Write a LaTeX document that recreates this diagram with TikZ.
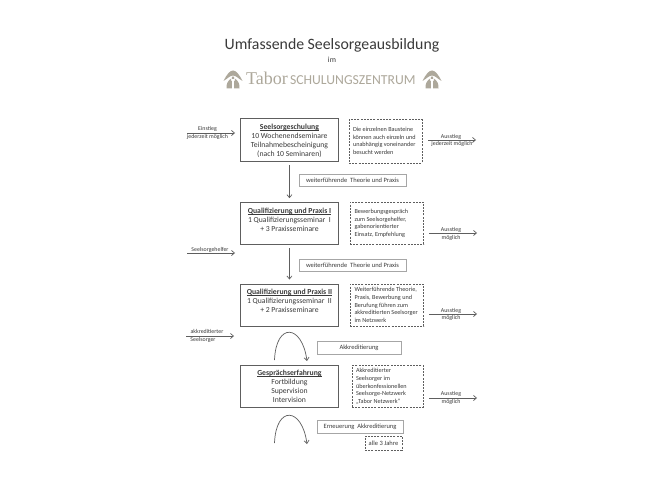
\documentclass[tikz,border=0pt]{standalone}
\usepackage{fontspec}
\setmainfont{Carlito}
\usetikzlibrary{arrows.meta,positioning}
\definecolor{ink}{HTML}{3A3A3A}
\definecolor{edge}{HTML}{5E5E5E}
\definecolor{logo}{HTML}{ADA89B}
\newcommand{\fs}[2]{\fontsize{#1}{#2}\selectfont}
\newcommand{\ubold}[1]{\setbox0\hbox{\textbf{#1}}\rlap{\rule[-1.1pt]{\wd0}{.6pt}}\box0}
\tikzset{
 x=1pt,y=-1pt,
 every node/.style={text=ink,inner sep=0pt,outer sep=0pt},
 mainbox/.style={draw=edge,line width=1pt,anchor=north west,font=\fs{7.7}{9.1}},
 maintext/.style={align=center,font=\fs{7.7}{9.05},anchor=north,yshift=-5pt},
 notebox/.style={draw=edge,line width=.7pt,dash pattern=on 2pt off 1.2pt,anchor=north west},
 notetext/.style={font=\fs{6.2}{7.6},align=left,anchor=west},
 tagbox/.style={draw=gray!70,line width=.6pt,anchor=north west,font=\fs{6.5}{8},align=center},
 flow/.style={draw=edge,line width=.7pt,-{Straight Barb[length=3pt,width=5pt]}},
 sidelabel/.style={font=\fs{5.9}{6.7},align=center},
 logoicon/.pic={
  \fill[logo] (-9.5,1) .. controls (-6,-6) and (-3,-9.5) .. (0,-9.5) .. controls (3,-9.5) and (6,-6) .. (9.5,1) .. controls (6,-1) and (3,-4.5) .. (0,-4.5) .. controls (-3,-4.5) and (-6,-1) .. (-9.5,1) -- cycle;
  \fill[logo] (-6.5,8.5) .. controls (-7,4) and (-5,0.5) .. (-1.8,-1.5) -- (-1.8,1) -- (-1.2,1) -- (-1.2,8.5) -- cycle;
  \fill[logo] (1.2,8.5) -- (1.2,1) -- (1.8,1) -- (1.8,-1.5) .. controls (5,0.5) and (7,4) .. (6.5,8.5) -- cycle;
  \fill[logo] (-1.1,-3) -- (0,-3.6) -- (1.1,-3) -- (1.1,-1) -- (-1.1,-1) -- cycle;
 }
}
\begin{document}
\begin{tikzpicture}
\useasboundingbox (0,0) rectangle (666,500);
\fill[white] (0,0) rectangle (666,500);
% heading
\node (title) at (332,45) {\fs{15.8}{18}Umfassende Seelsorgeausbildung};
\node (im) at (332,60) {\fs{7.8}{9}im};
\pic at (233,80) {logoicon};
\pic at (432,80) {logoicon};
\node[text=logo,anchor=base west] (tabor) at (246,85) {\fontspec{Liberation Serif}\fs{18}{20}Tabor};
\node[text=logo,anchor=base west] (schule) at (290,85) {\fs{13.7}{15}SCHULUNGSZENTRUM};

% main boxes
\node[mainbox,minimum width=97.5pt,minimum height=42pt] (b1) at (240.7,119) {};
\node[maintext] (t1) at (b1.north) {\ubold{Seelsorgeschulung}\\10 Wochenendseminare\\Teilnahmebescheinigung\\(nach 10 Seminaren)};
\node[mainbox,minimum width=97.5pt,minimum height=41.5pt] (b2) at (240.7,202.7) {};
\node[maintext] (t2) at (b2.north) {\ubold{Qualifizierung und Praxis I}\\1 Qualifizierungsseminar\ \ I\\+ 3 Praxisseminare};
\node[mainbox,minimum width=97.5pt,minimum height=42pt] (b3) at (240.7,284) {};
\node[maintext] (t3) at (b3.north) {\ubold{Qualifizierung und Praxis II}\\1 Qualifizierungsseminar\ \ II\\+ 2 Praxisseminare};
\node[mainbox,minimum width=97.5pt,minimum height=42pt] (b4) at (240.7,365) {};
\node[maintext] (t4) at (b4.north) {\ubold{Gesprächserfahrung}\\Fortbildung\\Supervision\\Intervision};

% note boxes
\node[notebox,minimum width=73pt,minimum height=43.5pt] (n1) at (349,119.5) {};
\node[notetext] (nt1) at (353,141) {Die einzelnen Bausteine\\können auch einzeln und\\unabhängig voneinander\\besucht werden};
\node[notebox,minimum width=73.7pt,minimum height=42pt] (n2) at (350,202) {};
\node[notetext] (nt2) at (354.5,223.5) {Bewerbungsgespräch\\zum Seelsorgehelfer,\\gabenorientierter\\Einsatz, Empfehlung};
\node[notebox,minimum width=73.7pt,minimum height=42pt] (n3) at (350,284) {};
\node[notetext] (nt3) at (354.5,305) {Weiterführende Theorie,\\Praxis, Bewerbung und\\Berufung führen zum\\akkreditierten Seelsorger\\im Netzwerk};
\node[notebox,minimum width=71.5pt,minimum height=41.5pt] (n4) at (352,365.7) {};
\node[notetext] (nt4) at (356,386.5) {Akkreditierter\\Seelsorger im\\überkonfessionellen\\Seelsorge-Netzwerk\\„Tabor Netzwerk“};

% tag boxes
\node[tagbox,minimum width=107pt,minimum height=12pt] (w1) at (299,174) {weiterführende\ \ Theorie und Praxis};
\node[tagbox,minimum width=107pt,minimum height=12pt] (w2) at (299,259) {weiterführende\ \ Theorie und Praxis};
\node[tagbox,minimum width=84pt,minimum height=13pt] (a1) at (317,341) {Akkreditierung};
\node[tagbox,minimum width=86pt,minimum height=13pt] (a2) at (317,420) {Erneuerung\ \ Akkreditierung};
\node[tagbox,draw=edge,dash pattern=on 2pt off 1.2pt,minimum width=37pt,minimum height=14pt] (a3) at (365,436) {alle 3 Jahre};

% vertical flow
\draw[flow,shorten <=4pt,shorten >=4.5pt] (b1.south) -- (b2.north);
\draw[flow,shorten <=4pt,shorten >=4.5pt] (b2.south) -- (b3.north);

% loops
\coordinate (l1s) at (274.5,360);
\coordinate (l1e) at (307,361);
\coordinate (l2s) at (274.5,443);
\coordinate (l2e) at (307,444);
\draw[flow] (l1s) .. controls (276,322) and (302,324) .. (l1e);
\draw[flow] (l2s) .. controls (276,405) and (302,407) .. (l2e);

% entry arrows
\coordinate (e1a) at (187,133); \coordinate (e1b) at (235,133);
\coordinate (e2a) at (187,253); \coordinate (e2b) at (235,253);
\coordinate (e3a) at (186,336); \coordinate (e3b) at (234,336);
\draw[flow] (e1a) -- (e1b);
\draw[flow] (e2a) -- (e2b);
\draw[flow] (e3a) -- (e3b);
\node[sidelabel] (el1) at (207.5,129) {Einstieg};
\node[sidelabel] (el1b) at (207.5,137) {jederzeit möglich};
\node[sidelabel] (el2) at (210,250) {Seelsorgehelfer};
\node[sidelabel] (el3) at (207,331.5) {akkreditierter};
\node[sidelabel] (el3b) at (203,339.5) {Seelsorger};

% exit arrows
\coordinate (x1a) at (428,140); \coordinate (x1b) at (476,140);
\coordinate (x2a) at (429,233); \coordinate (x2b) at (477,233);
\coordinate (x3a) at (429,314); \coordinate (x3b) at (477,314);
\coordinate (x4a) at (429,398); \coordinate (x4b) at (477,398);
\draw[flow] (x1a) -- (x1b);
\draw[flow] (x2a) -- (x2b);
\draw[flow] (x3a) -- (x3b);
\draw[flow] (x4a) -- (x4b);
\node[sidelabel] (xl1) at (451,137) {Ausstieg};
\node[sidelabel] (xl1b) at (452,144) {jederzeit möglich};
\node[sidelabel] (xl2) at (451,230) {Ausstieg};
\node[sidelabel] (xl2b) at (451,237.5) {möglich};
\node[sidelabel] (xl3) at (451,310.5) {Ausstieg};
\node[sidelabel] (xl3b) at (451,318) {möglich};
\node[sidelabel] (xl4) at (451,394) {Ausstieg};
\node[sidelabel] (xl4b) at (451,401.5) {möglich};
\end{tikzpicture}
\end{document}
